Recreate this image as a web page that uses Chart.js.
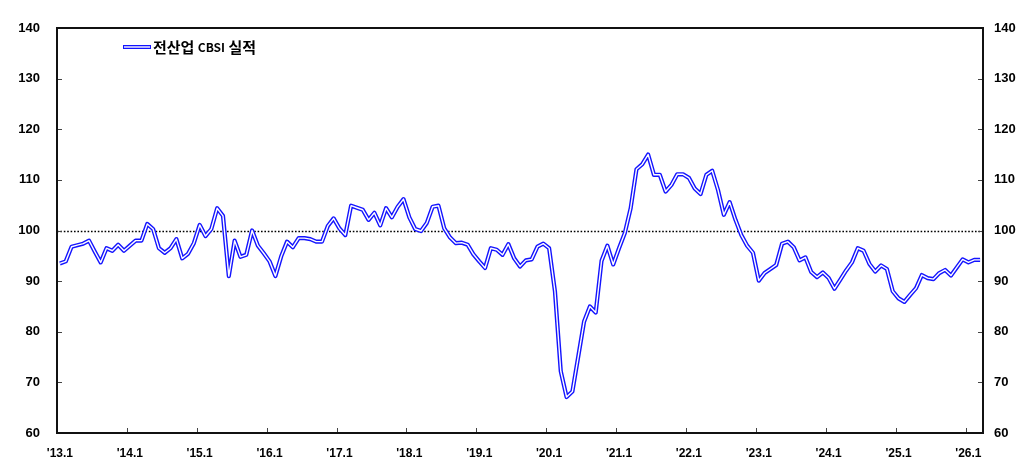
<!DOCTYPE html>
<html lang="ko">
<head>
<meta charset="UTF-8">
<title>전산업 CBSI 실적</title>
<style>
   body { margin: 0; background: #fff; }
   #wrap { width: 1026px; height: 464px; }
</style>
</head>
<body>
<div id="wrap"><canvas id="myChart"></canvas></div>

<script src="https://cdn.jsdelivr.net/npm/chart.js"></script>
<script>
// 연도(두 자리)와 월 -> 카테고리 라벨 '13.1 ...
const years = ['13', '14', '15', '16', '17', '18', '19', '20', '21', '22', '23', '24', '25', '26'];
const lastMonth = 3; // 2026.3 까지

// 전산업 CBSI 실적 (2013.1 ~ 2026.3, 월별)
const cbsi = [
   93.5, 93.9, 96.8, 97.1, 97.4, 98.0, 95.8, 93.7, 96.5, 96.0, 97.2, 96.0,      // 2013
   97.0, 98.0, 98.0, 101.3, 100.3, 96.5, 95.6, 96.5, 98.3, 94.5, 95.4, 97.5,    // 2014
   101.1, 98.9, 100.3, 104.4, 102.9, 91.0, 98.0, 94.8, 95.2, 100.0, 97.0, 95.5, // 2015
   93.9, 91.0, 94.9, 97.8, 96.7, 98.5, 98.5, 98.3, 97.8, 97.8, 100.9, 102.4,    // 2016
   100.4, 99.1, 104.9, 104.5, 104.1, 102.1, 103.5, 101.0, 104.4, 102.6, 104.7, 106.2, // 2017
   102.6, 100.3, 99.9, 101.5, 104.7, 104.9, 100.4, 98.6, 97.5, 97.6, 97.2, 95.3, // 2018
   93.9, 92.6, 96.5, 96.2, 95.2, 97.3, 94.5, 92.9, 94.1, 94.3, 96.8, 97.4,      // 2019
   96.5, 88.0, 72.2, 67.1, 68.2, 75.1, 82.0, 85.0, 83.8, 94.0, 97.0, 93.3,      // 2020
   96.5, 99.5, 104.4, 112.1, 113.1, 115.0, 111.0, 111.0, 107.7, 109.0, 111.1, 111.1, // 2021
   110.4, 108.3, 107.2, 111.0, 111.8, 108.0, 103.1, 105.6, 102.1, 99.1, 97.0, 95.6, // 2022
   90.1, 91.6, 92.4, 93.2, 97.4, 97.8, 96.7, 94.1, 94.7, 91.8, 90.8, 91.7,      // 2023
   90.6, 88.5, 90.3, 92.1, 93.7, 96.5, 96.0, 93.4, 91.9, 93.1, 92.4, 88.0,      // 2024
   86.6, 85.9, 87.3, 88.6, 91.2, 90.6, 90.4, 91.6, 92.2, 91.1, 92.7, 94.3,      // 2025
   93.7, 94.2, 94.2                                                              // 2026
];

const refLine = 100;
const yMin = 60, yMax = 140, yStep = 10;

const months = [];
years.forEach(function (yy, k) {
   const n = (k === years.length - 1) ? lastMonth : 12;
   for (let m = 1; m <= n; m++) months.push("'" + yy + '.' + m);
});

const BLUE = '#1414ff';

// 기준선, 테두리, 안쪽 눈금, 범례
const framePlugin = {
   id: 'framePlugin',
   beforeDatasetsDraw(chart) {
      const { ctx, chartArea: a, scales: { y } } = chart;
      const py = Math.round(y.getPixelForValue(refLine)) + 0.5;
      ctx.save();
      ctx.strokeStyle = '#000';
      ctx.lineWidth = 1.6;
      ctx.setLineDash([1.6, 1.8]);
      ctx.beginPath();
      ctx.moveTo(a.left, py);
      ctx.lineTo(a.right, py);
      ctx.stroke();
      ctx.restore();
   },
   afterDraw(chart) {
      const { ctx, chartArea: a, scales: { x, y } } = chart;
      ctx.save();
      // inner tick marks
      ctx.strokeStyle = '#444';
      ctx.lineWidth = 1;
      ctx.beginPath();
      y.ticks.forEach(function (t) {
         const py = Math.round(y.getPixelForValue(t.value)) + 0.5;
         ctx.moveTo(a.left, py); ctx.lineTo(a.left + 5, py);
         ctx.moveTo(a.right, py); ctx.lineTo(a.right - 5, py);
      });
      const half = (x.getPixelForValue(1) - x.getPixelForValue(0)) / 2;
      months.forEach(function (lab, i) {
         if (!lab.endsWith('.1') || i === 0) return;
         const px = Math.round(x.getPixelForValue(i) - half) + 0.5;
         ctx.moveTo(px, a.bottom); ctx.lineTo(px, a.bottom - 5);
      });
      ctx.stroke();

      // box
      ctx.strokeStyle = '#111';
      ctx.lineWidth = 2;
      ctx.strokeRect(a.left, a.top, a.right - a.left, a.bottom - a.top);

      // legend
      const lx = a.left + 66, ly = a.top + 19;
      ctx.lineCap = 'butt';
      ctx.strokeStyle = BLUE; ctx.lineWidth = 4;
      ctx.beginPath(); ctx.moveTo(lx, ly); ctx.lineTo(lx + 28, ly); ctx.stroke();
      ctx.strokeStyle = '#fff'; ctx.lineWidth = 1.4;
      ctx.beginPath(); ctx.moveTo(lx + 1, ly); ctx.lineTo(lx + 27, ly); ctx.stroke();
      ctx.fillStyle = '#000';
      ctx.textBaseline = 'middle';
      ctx.textAlign = 'left';
      let tx = lx + 30;
      [['전산업 ', 15], ['CBSI', 12], [' 실적', 15]].forEach(function (part) {
         ctx.font = 'bold ' + part[1] + 'px "Noto Sans CJK KR"';
         ctx.fillText(part[0], tx, ly);
         tx += ctx.measureText(part[0]).width;
      });
      ctx.restore();
   }
};

const tickFont = { family: '"Liberation Sans", Arial, sans-serif', size: 13, weight: 'bold' };

new Chart(document.getElementById('myChart'), {
   type: 'line',
   data: {
      labels: months,
      datasets: [
         {
            label: '전산업 CBSI 실적',
            data: cbsi,
            borderColor: '#ffffff',
            borderWidth: 1.4,
            borderJoinStyle: 'round',
            pointRadius: 0,
            tension: 0,
            order: 1
         },
         {
            label: '전산업 CBSI 실적',
            data: cbsi,
            borderColor: BLUE,
            borderWidth: 4.2,
            borderJoinStyle: 'round',
            pointRadius: 0,
            tension: 0,
            order: 2
         }
      ]
   },
   options: {
      responsive: true,
      maintainAspectRatio: false,
      animation: false,
      layout: { padding: { top: 28, left: 0, right: 0, bottom: 0 } },
      plugins: {
         legend: { display: false },
         tooltip: { enabled: false }
      },
      scales: {
         x: {
            type: 'category',
            offset: true,
            grid: { display: false, drawTicks: false, offset: true },
            border: { display: false },
            ticks: {
               autoSkip: false,
               maxRotation: 0,
               minRotation: 0,
               padding: 13,
               color: '#000',
               font: { family: '"Liberation Sans", Arial, sans-serif', size: 12, weight: 'bold' },
               callback: function (v, i) {
                  const lab = months[i];
                  return lab.endsWith('.1') && !lab.endsWith('.11') ? lab : '';
               }
            },
            afterFit: function (s) { s.height = 31; }
         },
         y: {
            position: 'left',
            min: yMin,
            max: yMax,
            grid: { display: false, drawTicks: false },
            border: { display: false },
            ticks: { stepSize: yStep, padding: 17, color: '#000', font: tickFont },
            afterFit: function (s) { s.width = 57; }
         },
         y2: {
            position: 'right',
            min: yMin,
            max: yMax,
            grid: { display: false, drawTicks: false },
            border: { display: false },
            ticks: { stepSize: yStep, padding: 11, color: '#000', font: tickFont },
            afterFit: function (s) { s.width = 43; }
         }
      }
   },
   plugins: [framePlugin]
});
</script>
</body>
</html>
